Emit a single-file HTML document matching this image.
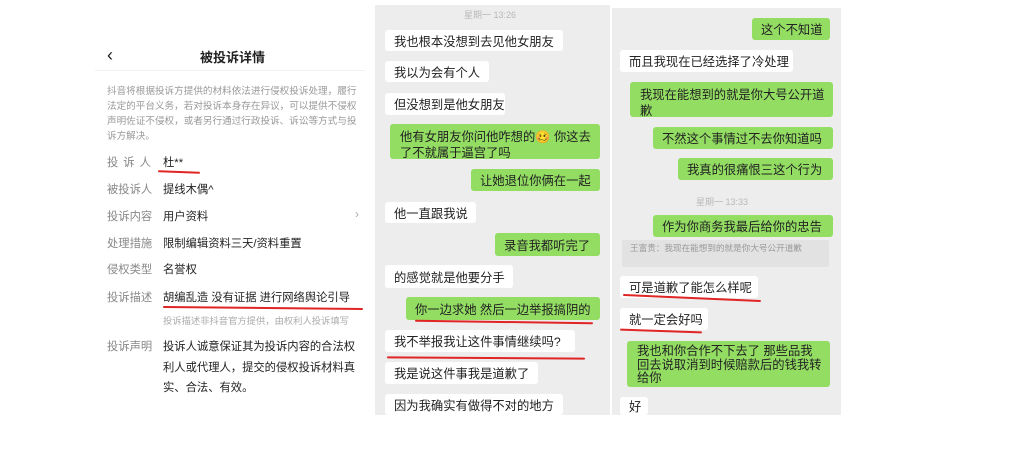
<!DOCTYPE html>
<html><head><meta charset="utf-8"><style>
*{margin:0;padding:0;box-sizing:border-box}
body{width:1024px;height:457px;background:#fff;position:relative;overflow:hidden;font-family:"Liberation Sans","Noto Sans CJK SC",sans-serif}
.a{position:absolute}
.p{position:absolute;background:#ededed}
.b{position:absolute;background:#fff;border-radius:3px;font-size:12.3px;color:#222;padding:0 0 0 9px;display:flex;align-items:center;white-space:nowrap}
.g{background:#93dd63}
.ml{white-space:normal;align-items:flex-start;padding:5px 8px 0 10px;line-height:16px}
.ts{position:absolute;font-size:9px;color:#b8b8b8}
.r{position:absolute;height:2px;background:#e02525;border-radius:2px}
.lb{position:absolute;left:107px;font-size:11.3px;color:#888}
.v{position:absolute;left:163px;font-size:11.3px;color:#222}
</style></head><body>
<!-- left panel -->
<div class="a" style="left:107px;top:45px;font-size:18px;color:#222">&#8249;</div>
<div class="a" style="left:200px;top:47px;font-size:13px;font-weight:bold;color:#222">被投诉详情</div>
<div class="a" style="left:95px;top:70px;width:270px;height:1px;background:#f2f2f2"></div>
<div class="a" style="left:107px;top:84px;width:250px;font-size:9.6px;line-height:15px;color:#999">抖音将根据投诉方提供的材料依法进行侵权投诉处理，履行法定的平台义务，若对投诉本身存在异议，可以提供不侵权声明佐证不侵权，或者另行通过行政投诉、诉讼等方式与投诉方解决。</div>
<div class="lb" style="top:154px;letter-spacing:5px">投诉人</div><div class="v" style="top:154px">杜**</div>
<div class="r" style="left:158px;top:171px;width:42px;transform:rotate(2deg)"></div>
<div class="lb" style="top:181px">被投诉人</div><div class="v" style="top:181px">提线木偶^</div>
<div class="lb" style="top:208px">投诉内容</div><div class="v" style="top:208px">用户资料</div>
<div class="a" style="left:355px;top:207px;font-size:12px;color:#aaa">›</div>
<div class="lb" style="top:235px">处理措施</div><div class="v" style="top:235px">限制编辑资料三天/资料重置</div>
<div class="lb" style="top:261px">侵权类型</div><div class="v" style="top:261px">名誉权</div>
<div class="lb" style="top:289px">投诉描述</div><div class="v" style="top:289px">胡编乱造 没有证据 进行网络舆论引导</div>
<div class="r" style="left:163px;top:307px;width:200px;transform:rotate(0.6deg)"></div>
<div class="a" style="left:163px;top:313px;font-size:9.3px;color:#aaa">投诉描述非抖音官方提供，由权利人投诉填写</div>
<div class="lb" style="top:338px">投诉声明</div>
<div class="v" style="top:337px;width:198px;line-height:20.5px">投诉人诚意保证其为投诉内容的合法权利人或代理人，提交的侵权投诉材料真实、合法、有效。</div>

<!-- middle panel -->
<div class="p" style="left:375px;top:5px;width:235px;height:410px"></div>
<div class="ts" style="left:464px;top:8px">星期一 13:26</div>
<div class="b" style="left:385px;top:30px;width:178px;height:21px">我也根本没想到去见他女朋友</div>
<div class="b" style="left:385px;top:61px;width:104px;height:21px">我以为会有个人</div>
<div class="b" style="left:385px;top:93px;width:120px;height:22px">但没想到是他女朋友</div>
<div class="b g ml" style="left:390px;top:124px;width:210px;height:35px">他有女朋友你问他咋想的🥴 你这去了不就属于逼宫了吗</div>
<div class="b g" style="left:471px;top:169px;width:129px;height:22px">让她退位你俩在一起</div>
<div class="b" style="left:385px;top:202px;width:91px;height:21px">他一直跟我说</div>
<div class="b g" style="left:495px;top:233px;width:105px;height:23px">录音我都听完了</div>
<div class="b" style="left:385px;top:265px;width:128px;height:23px">的感觉就是他要分手</div>
<div class="b g" style="left:406px;top:297px;width:194px;height:23px">你一边求她 然后一边举报搞阴的</div>
<div class="r" style="left:415px;top:321px;width:178px;transform:rotate(0.8deg)"></div>
<div class="b" style="left:385px;top:330px;width:190px;height:22px">我不举报我让这件事情继续吗?</div>
<div class="r" style="left:387px;top:357px;width:198px;transform:rotate(0.4deg)"></div>
<div class="b" style="left:385px;top:362px;width:153px;height:22px">我是说这件事我是道歉了</div>
<div class="b" style="left:385px;top:394px;width:178px;height:21px">因为我确实有做得不对的地方</div>

<!-- right panel -->
<div class="p" style="left:612px;top:8px;width:229px;height:407px"></div>
<div class="b g" style="left:752px;top:18px;width:78px;height:22px">这个不知道</div>
<div class="b" style="left:620px;top:50px;width:173px;height:22px">而且我现在已经选择了冷处理</div>
<div class="b g ml" style="left:630px;top:82px;width:203px;height:35px">我现在能想到的就是你大号公开道歉</div>
<div class="b g" style="left:653px;top:127px;width:180px;height:22px">不然这个事情过不去你知道吗</div>
<div class="b g" style="left:678px;top:158px;width:155px;height:22px">我真的很痛恨三这个行为</div>
<div class="ts" style="left:696px;top:195px">星期一 13:33</div>
<div class="b g" style="left:653px;top:215px;width:180px;height:22px">作为你商务我最后给你的忠告</div>
<div class="a" style="left:622px;top:240px;width:207px;height:27px;background:#e2e2e2;border-radius:2px;font-size:8.6px;color:#999;padding:3px 8px;line-height:11px">王富贵：我现在能想到的就是你大号公开道歉</div>
<div class="b" style="left:620px;top:276px;width:138px;height:22px">可是道歉了能怎么样呢</div>
<div class="r" style="left:623px;top:297px;width:138px;transform:rotate(2.5deg)"></div>
<div class="b" style="left:620px;top:308px;width:88px;height:22px">就一定会好吗</div>
<div class="r" style="left:620px;top:330px;width:82px;transform:rotate(2deg)"></div>
<div class="b g ml" style="left:627px;top:341px;width:203px;height:46px;line-height:13.5px;padding-top:4px">我也和你合作不下去了 那些品我回去说取消到时候赔款后的钱我转给你</div>
<div class="b" style="left:620px;top:397px;width:28px;height:18px">好</div>
</body></html>
